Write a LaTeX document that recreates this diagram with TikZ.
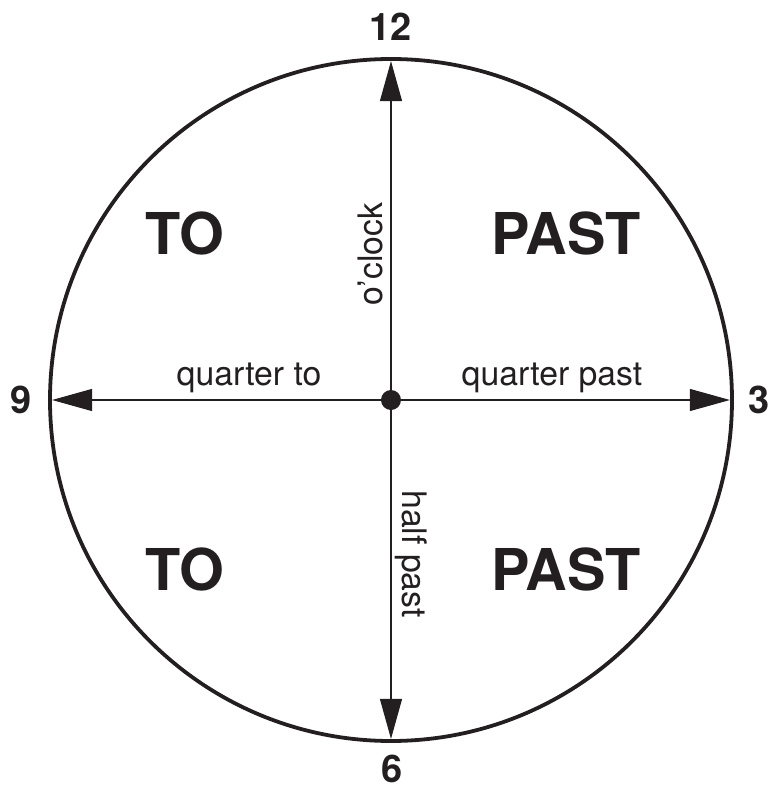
\documentclass[tikz,border=0pt]{standalone}
\usepackage{fontspec}
\setmainfont{TeX Gyre Heros}
\usetikzlibrary{arrows.meta}
\definecolor{ink}{HTML}{231F20}
\begin{document}
\begin{tikzpicture}[scale=0.025,
  rim/.style={draw=ink, line width=2.7pt},
  hand/.style={draw=ink, line width=0.8pt, -{Triangle[length=1cm, width=0.55cm]}},
  hour/.style={font=\fontsize{27}{27}\selectfont\bfseries, text=ink, inner sep=0pt},
  side/.style={font=\fontsize{41}{41}\selectfont\bfseries, text=ink, inner sep=0pt},
  lbl/.style={font=\fontsize{24}{24}\selectfont, text=ink, inner sep=0pt},
  dot/.style={circle, fill=ink, inner sep=0pt, minimum size=0.5cm}]
  \useasboundingbox (-391,-388) rectangle (381,400);
  \draw[rim] (0,0) circle[radius=341];
  \coordinate (c) at (0,0);
  \coordinate (n12) at (0,339);
  \coordinate (n3) at (339,0);
  \coordinate (n6) at (0,-339);
  \coordinate (n9) at (-339,0);
  \draw[hand] (c) -- (n12);
  \draw[hand] (c) -- (n3);
  \draw[hand] (c) -- (n6);
  \draw[hand] (c) -- (n9);
  \node[dot] (hub) at (c) {};
  \node[hour] (h12) at (0,373) {12};
  \node[hour] (h3) at (368,0) {3};
  \node[hour] (h6) at (1,-369) {6};
  \node[hour] (h9) at (-370,0) {9};
  \node[side] (toup) at (-206,167) {TO};
  \node[side] (pastup) at (175,167) {PAST};
  \node[side] (todown) at (-206,-169) {TO};
  \node[side] (pastdown) at (175,-169) {PAST};
  \node[lbl, anchor=base] (qto) at (-142,14) {quarter to};
  \node[lbl, anchor=base] (qpast) at (161,14) {quarter past};
  \node[lbl, anchor=base, rotate=90] (oclock) at (-8,146) {o'clock};
  \node[lbl, anchor=base, rotate=-90] (hpast) at (11,-154) {half past};
\end{tikzpicture}
\end{document}
